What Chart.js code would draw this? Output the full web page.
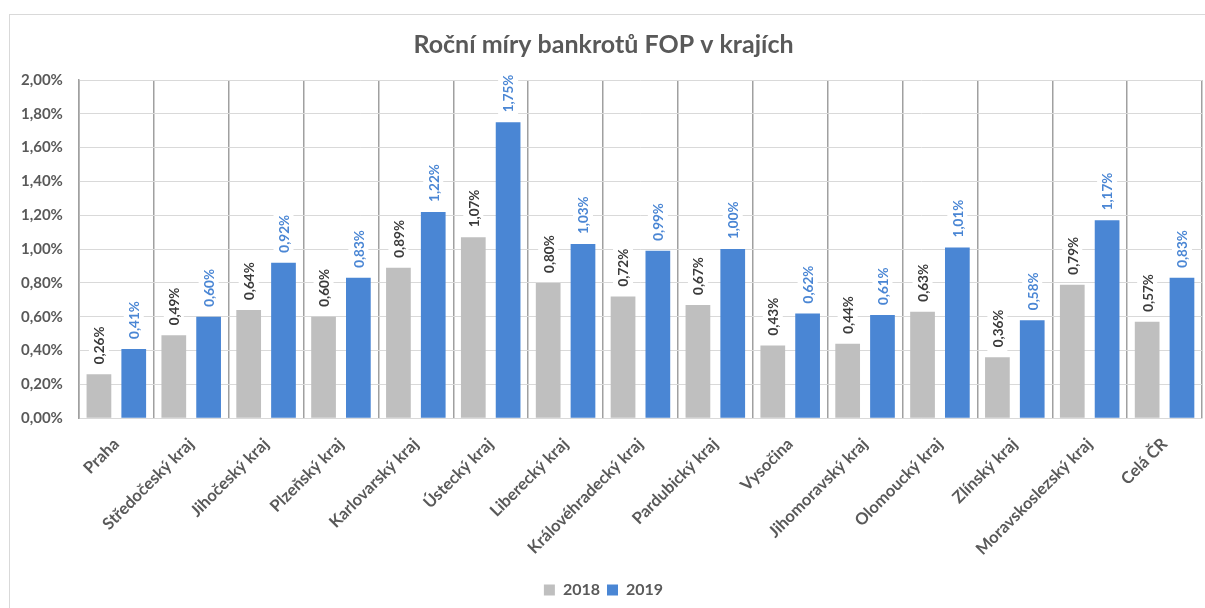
<!DOCTYPE html>
<html>
<head>
<meta charset="utf-8">
<script src="https://cdn.jsdelivr.net/npm/chart.js@4/dist/chart.umd.min.js"></script>
<style>
  html, body { margin: 0; padding: 0; background: #fff; }
  #wrap { width: 1205px; height: 608px; position: relative; }
</style>
</head>
<body>
<div id="wrap"><canvas id="chart"></canvas></div>
<script>
// Data
const regions = [
  'Praha', 'Středočeský kraj', 'Jihočeský kraj', 'Plzeňský kraj', 'Karlovarský kraj',
  'Ústecký kraj', 'Liberecký kraj', 'Královéhradecký kraj', 'Pardubický kraj', 'Vysočina',
  'Jihomoravský kraj', 'Olomoucký kraj', 'Zlínský kraj', 'Moravskoslezský kraj', 'Celá ČR'
];
const rates2018 = [0.26, 0.49, 0.64, 0.60, 0.89, 1.07, 0.80, 0.72, 0.67, 0.43, 0.44, 0.63, 0.36, 0.79, 0.57];
const rates2019 = [0.41, 0.60, 0.92, 0.83, 1.22, 1.75, 1.03, 0.99, 1.00, 0.62, 0.61, 1.01, 0.58, 1.17, 0.83];

const FONT = "Lato, 'Open Sans', sans-serif";
const TEXT = '#595959';
const GRAY = '#bfbfbf';
const BLUE = '#4a86d4';

const fmtPct = (v) => v.toFixed(2).replace('.', ',') + '%';

// Light frame around the whole chart
const framePlugin = {
  id: 'frame',
  beforeDraw(chart) {
    const ctx = chart.ctx;
    ctx.save();
    ctx.fillStyle = '#fff';
    ctx.fillRect(0, 0, chart.width, chart.height);
    ctx.strokeStyle = '#d9d9d9';
    ctx.lineWidth = 1;
    ctx.strokeRect(9.5, 14.5, chart.width + 10, chart.height + 10);
    ctx.restore();
  },
};

// Vertical value labels above each bar, on a white patch
const valueLabels = {
  id: 'valueLabels',
  afterDatasetsDraw(chart) {
    const ctx = chart.ctx;
    ctx.save();
    ctx.font = `bold 13.5px ${FONT}`;
    ctx.textBaseline = 'middle';
    ctx.textAlign = 'left';
    chart.data.datasets.forEach((ds, i) => {
      const meta = chart.getDatasetMeta(i);
      meta.data.forEach((bar, j) => {
        const txt = fmtPct(ds.data[j]);
        const w = ctx.measureText(txt).width;
        ctx.save();
        ctx.translate(bar.x, bar.y - 10);
        ctx.rotate(-Math.PI / 2);
        ctx.fillStyle = '#fff';
        ctx.fillRect(-4, -10, w + 8, 20);
        ctx.fillStyle = ds.labelColor;
        ctx.fillText(txt, 0, 1);
        ctx.restore();
      });
    });
    ctx.restore();
  },
};

new Chart(document.getElementById('chart'), {
  type: 'bar',
  data: {
    labels: regions,
    datasets: [
      {
        label: '2018',
        data: rates2018,
        backgroundColor: GRAY,
        labelColor: '#3a3a3a',
        categoryPercentage: 0.93,
        barPercentage: 0.71,
      },
      {
        label: '2019',
        data: rates2019,
        backgroundColor: BLUE,
        labelColor: BLUE,
        categoryPercentage: 0.93,
        barPercentage: 0.71,
      },
    ],
  },
  options: {
    responsive: true,
    maintainAspectRatio: false,
    animation: false,
    layout: { padding: { top: 15, left: 5, right: 3, bottom: 0 } },
    plugins: {
      title: {
        display: true,
        text: 'Roční míry bankrotů FOP v krajích',
        color: TEXT,
        font: { family: FONT, size: 25, weight: 'bold' },
        padding: { top: 15, bottom: 20 },
      },
      legend: {
        position: 'bottom',
        labels: {
          color: TEXT,
          font: { family: FONT, size: 16, weight: 'bold' },
          boxWidth: 11,
          boxHeight: 11,
          padding: 7,
        },
      },
      tooltip: { enabled: false },
    },
    scales: {
      x: {
        grid: { color: '#a0a0a0', lineWidth: 1.5, offset: true, drawTicks: false },
        border: { color: '#d9d9d9' },
        ticks: {
          color: TEXT,
          font: { family: FONT, size: 16.5, weight: 'bold' },
          minRotation: 45,
          maxRotation: 45,
          padding: 16,
          autoSkip: false,
        },
      },
      y: {
        min: 0,
        max: 2,
        grid: { color: '#d9d9d9', drawTicks: false },
        border: { color: '#a0a0a0', width: 1.5 },
        ticks: {
          stepSize: 0.2,
          color: TEXT,
          font: { family: FONT, size: 15, weight: 'bold' },
          padding: 16,
          callback: (v) => fmtPct(v),
        },
      },
    },
  },
  plugins: [framePlugin, valueLabels],
});
</script>
</body>
</html>
